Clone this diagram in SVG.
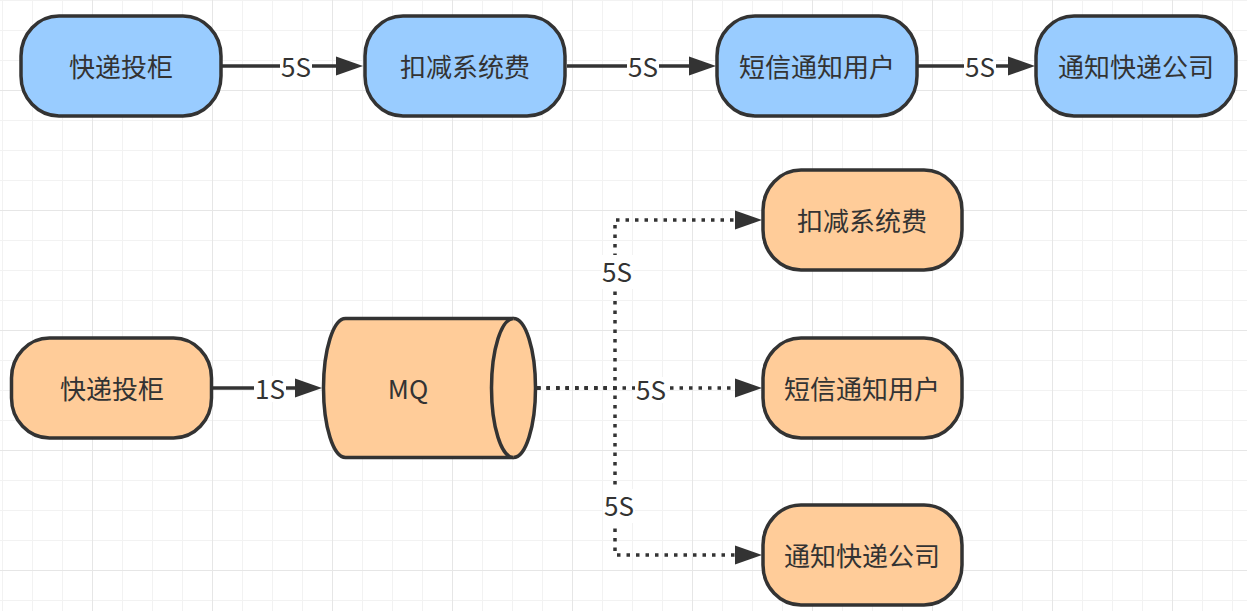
<svg xmlns="http://www.w3.org/2000/svg" width="1247" height="611" viewBox="0 0 1247 611">
<style>
.blue{fill:#99CCFF;stroke:#333333;stroke-width:3.5}
.orange{fill:#FFCC99;stroke:#333333;stroke-width:3.5}
.t{font-family:'Noto Sans CJK SC','Noto Sans',sans-serif;font-size:26px;fill:#333333;text-anchor:middle}
.edge{fill:none;stroke:#333333;stroke-width:3.5}
.dot{fill:none;stroke:#333333;stroke-width:3.5;stroke-dasharray:3.5 6}
.lbg{fill:#ffffff}
</style>
<defs>
<pattern id="minor" patternUnits="userSpaceOnUse" x="2" y="0" width="30" height="30">
<path d="M0.5,0 V30 M0,0.5 H30" fill="none" stroke="#f2f2f2" stroke-width="1"/>
</pattern>
<pattern id="major" patternUnits="userSpaceOnUse" x="92" y="90" width="120" height="120">
<path d="M0.5,0 V120 M0,0.5 H120" fill="none" stroke="#e6e6e6" stroke-width="1"/>
</pattern>
<marker id="arr" markerUnits="userSpaceOnUse" markerWidth="27" markerHeight="19" refX="0" refY="9.5" orient="auto" overflow="visible">
<path d="M0,0 L27,9.5 L0,19 Z" fill="#333333" stroke="none"/>
</marker>
</defs>
<rect width="1247" height="611" fill="#ffffff"/>
<rect width="1247" height="611" fill="url(#minor)"/>
<rect width="1247" height="611" fill="url(#major)"/>

<g id="connectors">
<path class="edge" d="M222,66 H336" marker-end="url(#arr)"/>
<path class="edge" d="M567,66 H689" marker-end="url(#arr)"/>
<path class="edge" d="M918,66 H1008" marker-end="url(#arr)"/>
<path class="edge" d="M212,388 H295" marker-end="url(#arr)"/>
<path class="dot" d="M537,388 H615 V220 H735" marker-end="url(#arr)"/>
<path class="dot" d="M537,388 H735" marker-end="url(#arr)"/>
<path class="dot" d="M537,388 H615 V555 H735" marker-end="url(#arr)"/>
<g id="labels">
<rect class="lbg" x="280" y="54" width="32" height="26"/>
<text class="t" x="296" y="77">5S</text>
<rect class="lbg" x="627" y="54" width="32" height="26"/>
<text class="t" x="643" y="77">5S</text>
<rect class="lbg" x="964" y="54" width="32" height="26"/>
<text class="t" x="980" y="77">5S</text>
<rect class="lbg" x="254" y="376" width="32" height="26"/>
<text class="t" x="270" y="399">1S</text>
<rect class="lbg" x="601" y="255" width="32" height="34"/>
<text class="t" x="617" y="282">5S</text>
<rect class="lbg" x="635" y="377" width="32" height="26"/>
<text class="t" x="651" y="400">5S</text>
<rect class="lbg" x="603" y="489" width="32" height="34"/>
<text class="t" x="619" y="516">5S</text>
</g>
</g>

<g id="top1"><rect class="blue" x="21" y="16" width="200" height="100" rx="38" ry="40"/><text class="t" x="121" y="76.5">快递投柜</text></g>
<g id="top2"><rect class="blue" x="365" y="16" width="200" height="100" rx="38" ry="40"/><text class="t" x="465" y="76.5">扣减系统费</text></g>
<g id="top3"><rect class="blue" x="717" y="16" width="200" height="100" rx="38" ry="40"/><text class="t" x="817" y="76.5">短信通知用户</text></g>
<g id="top4"><rect class="blue" x="1036" y="16" width="200" height="100" rx="38" ry="40"/><text class="t" x="1136" y="76.5">通知快递公司</text></g>

<g id="b_locker"><rect class="orange" x="11.5" y="338" width="200" height="100" rx="38" ry="40"/><text class="t" x="112" y="398.5">快递投柜</text></g>
<g id="mq">
<path class="orange" d="M345.5,318.5 L513.5,318.5 A22,69.5 0 0 1 513.5,457.5 L345.5,457.5 A22,69.5 0 0 1 345.5,318.5 Z"/>
<path class="orange" d="M513.5,318.5 A22,69.5 0 0 0 513.5,457.5"/>
<text class="t" x="408" y="398.5">MQ</text>
</g>
<g id="b_fee"><rect class="orange" x="763" y="170" width="199" height="100" rx="38" ry="40"/><text class="t" x="862" y="230.5">扣减系统费</text></g>
<g id="b_sms"><rect class="orange" x="763" y="338" width="199" height="100" rx="38" ry="40"/><text class="t" x="862" y="398.5">短信通知用户</text></g>
<g id="b_company"><rect class="orange" x="763" y="505" width="199" height="100" rx="38" ry="40"/><text class="t" x="862" y="565.5">通知快递公司</text></g>
</svg>
